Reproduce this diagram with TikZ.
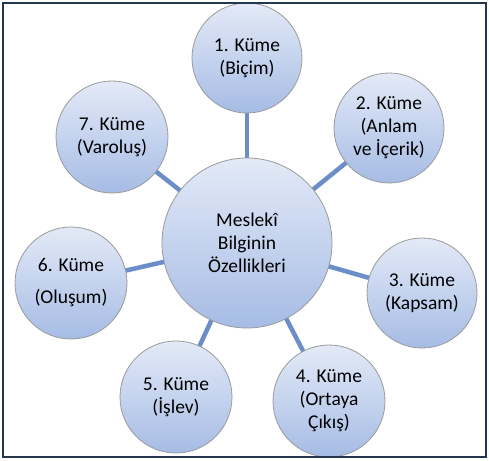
\documentclass[tikz,border=0pt]{standalone}
\usepackage{fontspec}
\setmainfont{Carlito}
\definecolor{bubtop}{HTML}{E3EAF7}
\definecolor{bubbot}{HTML}{A6BCE5}
\definecolor{bubline}{HTML}{9A9A9A}
\definecolor{spokecol}{HTML}{6C8EC8}
\definecolor{framecol}{HTML}{243650}
\begin{document}
\begin{tikzpicture}[x=1pt,y=-1pt,
  bubble/.style={circle,draw=bubline,line width=0.8pt,top color=bubtop,bottom color=bubbot,
    align=center,font=\fontsize{19.5}{23}\selectfont,inner sep=0pt},
  spoke/.style={line width=4.5pt,draw=spokecol}]
\useasboundingbox (0,0) rectangle (489,460);
\fill[white] (0,0) rectangle (489,460);
% spoke hubs
\coordinate (c) at (247,243);
\coordinate (p1) at (247,58);
\coordinate (p2) at (389,128);
\coordinate (p3) at (422,293);
\coordinate (p4) at (329,401);
\coordinate (p5) at (176,397);
\coordinate (p6) at (71,283);
\coordinate (p7) at (112,137);
\foreach \p in {p1,p2,p3,p4,p5,p6,p7} \draw[spoke] (c) -- (\p);
% centre
\node[bubble,minimum size=170pt] (m) at (c) {Meslekî\\Bilginin\\Özellikleri};
% clusters
\node[bubble,minimum size=110pt] (k1) at (p1) {1. Küme\\(Biçim)};
\node[bubble,minimum size=110pt] (k2) at (p2) {2. Küme\\(Anlam\\ve İçerik)};
\node[bubble,minimum size=110pt] (k3) at (p3) {3. Küme\\(Kapsam)};
\node[bubble,minimum size=112pt] (k4) at (p4) {4. Küme\\(Ortaya\\Çıkış)};
\node[bubble,minimum size=112pt] (k5) at (p5) {5. Küme\\(İşlev)};
\node[bubble,minimum size=112pt] (k6) at (p6) {6. Küme\\[9pt](Oluşum)};
\node[bubble,minimum size=112pt] (k7) at (p7) {7. Küme\\(Varoluş)};
% frame
\draw[line width=2pt,draw=framecol] (3,3) rectangle (486,457);
\end{tikzpicture}
\end{document}
